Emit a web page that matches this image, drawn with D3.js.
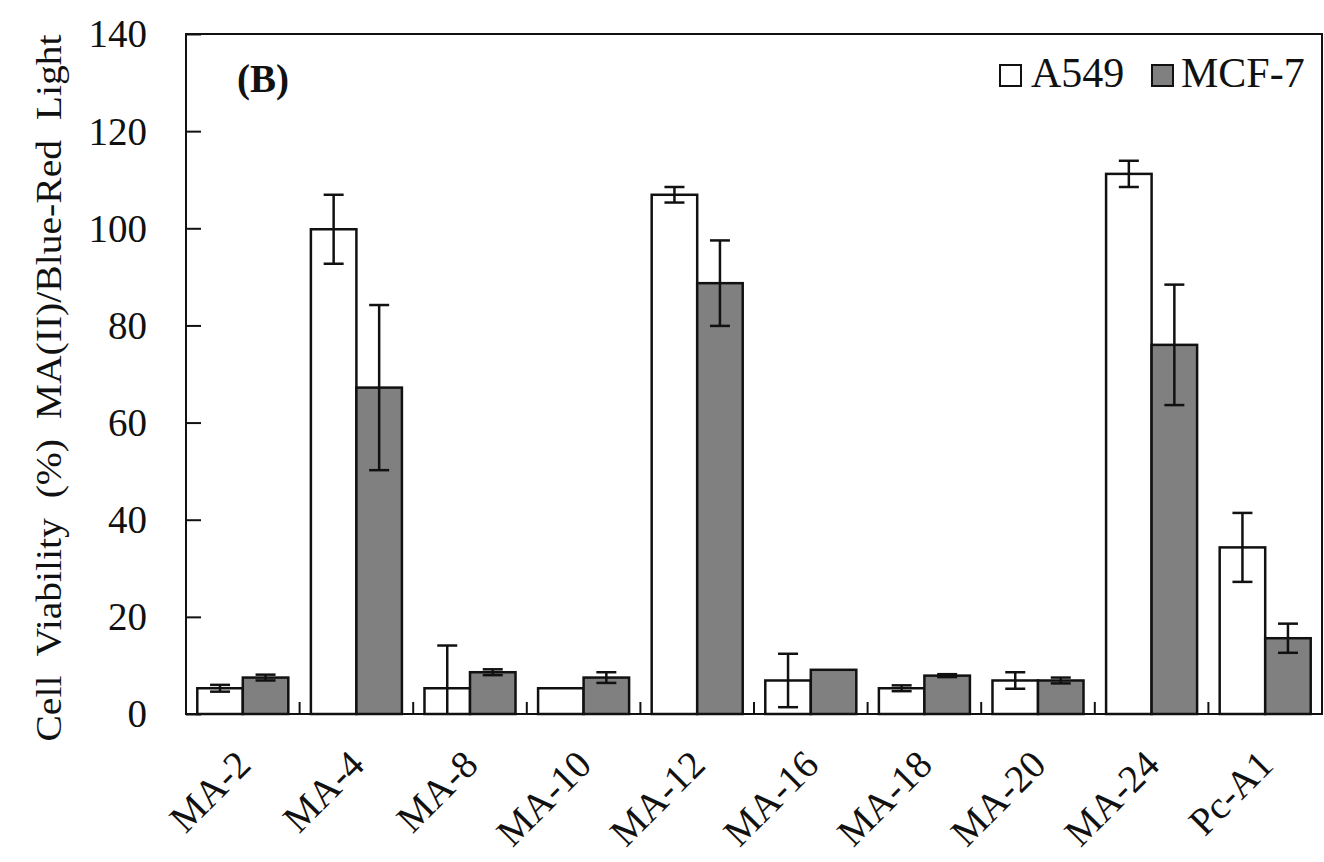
<!DOCTYPE html>
<html>
<head>
<meta charset="utf-8">
<script src="https://cdn.jsdelivr.net/npm/d3@7"></script>
<style>
  html, body { margin: 0; padding: 0; background: #fff; }
  svg { display: block; }
  text { font-family: "Liberation Serif", "Times New Roman", serif; fill: #111; }
</style>
</head>
<body>
<svg id="chart" width="1324" height="862"></svg>
<script>
// Cell viability of each compound under blue-red light, two cell lines
const categories = ["MA-2", "MA-4", "MA-8", "MA-10", "MA-12", "MA-16", "MA-18", "MA-20", "MA-24", "Pc-A1"];
const seriesNames = ["A549", "MCF-7"];
const a549Values = [5.3, 99.8, 5.3, 5.3, 106.9, 6.9, 5.3, 6.9, 111.2, 34.3];
const a549Errors = [0.7, 7.1, 8.8, 0, 1.6, 5.5, 0.6, 1.7, 2.7, 7.1];
const mcf7Values = [7.5, 67.2, 8.6, 7.5, 88.7, 9.1, 7.9, 6.9, 76.0, 15.6];
const mcf7Errors = [0.6, 17.0, 0.6, 1.1, 8.8, 0, 0.3, 0.6, 12.4, 3.0];
const yTicks = [0, 20, 40, 60, 80, 100, 120, 140];
const seriesFill = { "A549": "#ffffff", "MCF-7": "#808080" };

const rows = categories.map((c, i) => ({
  category: c,
  bars: [
    { series: "A549", value: a549Values[i], err: a549Errors[i] },
    { series: "MCF-7", value: mcf7Values[i], err: mcf7Errors[i] }
  ]
}));

const svg = d3.select("#chart");
const plotLeft = 186, plotRight = 1322, plotTop = 34, plotBottom = 714;

const x0 = d3.scaleBand().domain(categories).range([plotLeft, plotRight]).paddingInner(0).paddingOuter(0);
const x1 = d3.scaleBand().domain(seriesNames).range([0, x0.bandwidth()]).paddingInner(0).paddingOuter(0.248);
const y = d3.scaleLinear().domain([0, 140]).range([plotBottom, plotTop]);

svg.append("defs").append("clipPath").attr("id", "plotClip")
  .append("rect").attr("x", plotLeft).attr("y", plotTop)
  .attr("width", plotRight - plotLeft).attr("height", plotBottom - plotTop);

// y axis: inward ticks, labels on the left
const yAxis = svg.append("g").attr("transform", `translate(${plotLeft},0)`)
  .call(d3.axisLeft(y).tickValues(yTicks).tickSizeInner(-15).tickSizeOuter(0).tickPadding(39).tickFormat(d3.format("d")));
yAxis.select(".domain").remove();
yAxis.selectAll(".tick line").attr("stroke", "#111").attr("stroke-width", 2);
yAxis.selectAll(".tick text").style("font-size", "39px").attr("fill", "#111").attr("dy", "0.33em");

// x axis: small upward ticks at category boundaries
const boundaries = categories.slice(1).map(c => x0(c));
svg.append("g").selectAll("line").data(boundaries).join("line")
  .attr("x1", d => d).attr("x2", d => d)
  .attr("y1", plotBottom).attr("y2", plotBottom - 12)
  .attr("stroke", "#111").attr("stroke-width", 2);

// bars
const groups = svg.append("g").selectAll("g").data(rows).join("g")
  .attr("transform", d => `translate(${x0(d.category)},0)`);

groups.selectAll("rect").data(d => d.bars).join("rect")
  .attr("x", d => x1(d.series))
  .attr("y", d => y(d.value))
  .attr("width", x1.bandwidth())
  .attr("height", d => y(0) - y(d.value))
  .attr("fill", d => seriesFill[d.series])
  .attr("stroke", "#111").attr("stroke-width", 2.5);

// error bars
const capW = 20;
const errG = svg.append("g").attr("clip-path", "url(#plotClip)");
rows.forEach(r => {
  r.bars.filter(b => b.err > 0).forEach(b => {
    const cx = x0(r.category) + x1(b.series) + x1.bandwidth() / 2;
    const yHi = y(b.value + b.err), yLo = y(b.value - b.err);
    const g = errG.append("g").attr("stroke", "#111").attr("stroke-width", 2.5);
    g.append("line").attr("x1", cx).attr("x2", cx).attr("y1", yHi).attr("y2", yLo);
    g.append("line").attr("x1", cx - capW / 2).attr("x2", cx + capW / 2).attr("y1", yHi).attr("y2", yHi);
    g.append("line").attr("x1", cx - capW / 2).attr("x2", cx + capW / 2).attr("y1", yLo).attr("y2", yLo);
  });
});

// frame
svg.append("rect").attr("x", plotLeft).attr("y", plotTop)
  .attr("width", plotRight - plotLeft).attr("height", plotBottom - plotTop)
  .attr("fill", "none").attr("stroke", "#111").attr("stroke-width", 2);

// category labels, rotated
svg.append("g").selectAll("text").data(categories).join("text")
  .attr("transform", d => `translate(${x0(d) + x0.bandwidth() / 2 + 10},${plotBottom + 53}) rotate(-45)`)
  .attr("text-anchor", "end")
  .style("font-size", "39px")
  .text(d => d);

// y axis title, slightly elongated along its length
svg.append("text")
  .attr("transform", `translate(61,388) rotate(-90) scale(1.1,1)`)
  .attr("text-anchor", "middle")
  .style("font-size", "36px")
  .style("white-space", "pre")
  .text("Cell  Viability  (%)  MA(II)/Blue-Red  Light");

// panel tag
svg.append("text").attr("x", 237).attr("y", 92)
  .style("font-size", "39px").style("font-weight", "bold")
  .text("(B)");

// legend
const legend = svg.append("g");
const legendItems = [
  { name: "A549", sx: 1000, tx: 1031 },
  { name: "MCF-7", sx: 1152, tx: 1181 }
];
legend.selectAll("rect").data(legendItems).join("rect")
  .attr("x", d => d.sx).attr("y", 65).attr("width", 21).attr("height", 21)
  .attr("fill", d => seriesFill[d.name]).attr("stroke", "#111").attr("stroke-width", 2);
legend.selectAll("text").data(legendItems).join("text")
  .attr("x", d => d.tx).attr("y", 87)
  .style("font-size", "42px")
  .text(d => d.name);
</script>
</body>
</html>
